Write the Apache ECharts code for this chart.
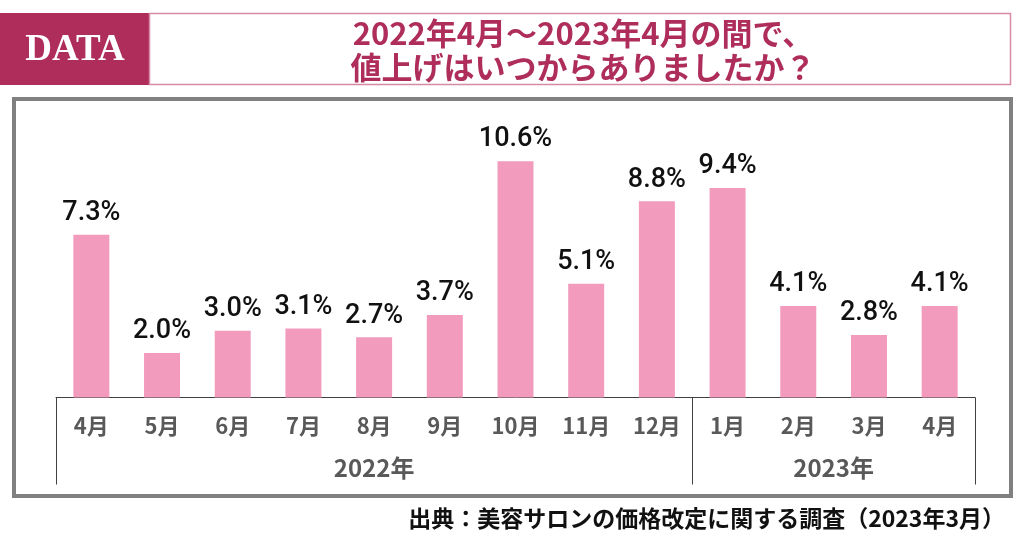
<!DOCTYPE html>
<html>
<head>
<meta charset="utf-8">
<script src="https://cdn.jsdelivr.net/npm/echarts@6/dist/echarts.min.js"></script>
<style>
html,body{margin:0;padding:0;background:#fff;}
#c{width:1024px;height:538px;}
</style>
</head>
<body>
<div id="c"></div>
<script>
const months = ['4月','5月','6月','7月','8月','9月','10月','11月','12月','1月','2月','3月','4月'];
const values = [7.3, 2.0, 3.0, 3.1, 2.7, 3.7, 10.6, 5.1, 8.8, 9.4, 4.1, 2.8, 4.1];
const yearNames = ['2022年', '2023年'];
const yearCounts = [9, 4];
const titleText = '2022年4月～2023年4月の間で、\n値上げはいつからありましたか？';
const sourceText = '出典：美容サロンの価格改定に関する調査（2023年3月）';
const badgeText = 'DATA';

// group boundaries and midpoints (in category units)
const bounds = [0];
yearCounts.forEach(n => bounds.push(bounds[bounds.length - 1] + n));
const mids = yearCounts.map((n, i) => bounds[i] + n / 2);

const chart = echarts.init(document.getElementById('c'), null, {renderer: 'canvas'});
const jp = '"Noto Sans CJK JP", "Noto Sans", sans-serif';

const gridPos = {left: 56, right: 49, top: 130, bottom: 140.5};

chart.setOption({
  animation: false,
  backgroundColor: '#fff',
  title: [
    {
      text: titleText,
      left: 578, textAlign: 'center', top: 11,
      textStyle: {color: '#AE2D5B', fontSize: 31, lineHeight: 34, fontWeight: 'bold', fontFamily: jp}
    },
    {
      text: sourceText,
      right: 14, top: 502,
      textStyle: {color: '#111', fontSize: 23, fontWeight: 'bold', fontFamily: jp}
    }
  ],
  graphic: [
    {type: 'rect', z: -1, shape: {x: 0, y: 13, width: 149, height: 72}, style: {fill: '#AE2D5B'}},
    {type: 'rect', z: -1, shape: {x: 149.5, y: 13.5, width: 861, height: 71}, style: {fill: 'none', stroke: '#D58AA6', lineWidth: 1.5}},
    {type: 'text', x: 75, y: 50, style: {text: badgeText, fill: '#fff', font: 'bold 37px "Liberation Serif", "DejaVu Serif", serif', align: 'center', verticalAlign: 'middle', textShadowColor: '#E7A9BF', textShadowOffsetX: 1.5, textShadowOffsetY: 1.5, textShadowBlur: 0}},
    {type: 'rect', z: -1, shape: {x: 14, y: 99, width: 997, height: 397}, style: {fill: 'none', stroke: '#808080', lineWidth: 4}}
  ],
  grid: [
    Object.assign({}, gridPos),
    Object.assign({}, gridPos)
  ],
  xAxis: [
    {
      type: 'category', gridIndex: 0, data: months,
      axisLine: {lineStyle: {color: '#404040', width: 1}},
      axisTick: {show: false},
      axisLabel: {color: '#595959', fontSize: 22, fontWeight: 'bold', fontFamily: jp, margin: 17}
    },
    {
      type: 'value', gridIndex: 1, min: 0, max: bounds[bounds.length - 1], position: 'bottom',
      axisLine: {show: false},
      splitLine: {show: false},
      axisTick: {show: true, customValues: bounds, length: 87, lineStyle: {color: '#404040', width: 1}},
      axisLabel: {
        show: true, customValues: mids, margin: 58,
        color: '#595959', fontSize: 24, fontWeight: 'bold', fontFamily: jp,
        formatter: v => { const i = mids.indexOf(v); return i >= 0 ? yearNames[i] : ''; }
      }
    }
  ],
  yAxis: [
    {type: 'value', gridIndex: 0, min: 0, max: 12, show: false},
    {type: 'value', gridIndex: 1, min: 0, max: 1, show: false}
  ],
  series: [
    {
      type: 'bar', xAxisIndex: 0, yAxisIndex: 0,
      data: values,
      barWidth: 36,
      itemStyle: {color: '#F29BBD'},
      label: {
        show: true, position: 'top', distance: 8,
        formatter: p => p.value.toFixed(1) + '%',
        color: '#111', fontSize: 27, fontWeight: 500, fontFamily: 'Roboto, "Liberation Sans", sans-serif'
      }
    }
  ]
});
</script>
</body>
</html>
